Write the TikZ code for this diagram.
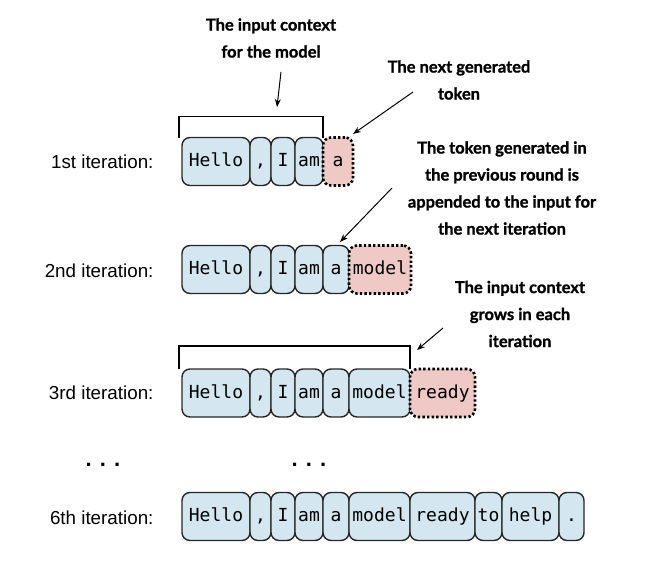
\documentclass[tikz,border=0pt]{standalone}
\usepackage{fontspec}
\usetikzlibrary{positioning,arrows.meta}
\newfontfamily\tokfont{DejaVu Sans Mono}
\newfontfamily\labfont{Liberation Sans}
\newfontfamily\notefont{Lato}[BoldFeatures={FakeBold=1.2}]
\definecolor{tokblue}{HTML}{D4E7F1}
\definecolor{tokred}{HTML}{EEC9C5}
\tikzstyle{tok}=[draw=black!85, fill=tokblue, line width=1.4pt, rounded corners=8pt, outer sep=0pt, minimum height=48pt, inner xsep=1pt, text height=13pt, text depth=3pt, font=\tokfont\fontsize{18}{21}\selectfont]
\tikzstyle{newtok}=[tok, fill=tokred, draw=black, line width=2.6pt, dash pattern=on 2.4pt off 2.2pt]
\tikzstyle{iter}=[anchor=east, font=\labfont\fontsize{18.8}{23}\selectfont]
\tikzstyle{note}=[align=center, font=\notefont\bfseries\fontsize{16.5}{27}\selectfont]
\tikzstyle{pointer}=[-{Stealth[length=8pt,width=6pt]}, line width=1pt]
\tikzstyle{bracket}=[line width=1.5pt]

\begin{document}
\begin{tikzpicture}[x=1pt, y=-1pt]
  \useasboundingbox (0,0) rectangle (662,562);
  % annotations
  \node[note] (ctx) at (271,38) {The input context\\for the model};
  \node[note] (nxt) at (459,80) {The next generated\\token};
  \node[note] (app) at (502,188) {The token generated in\\the previous round is\\appended to the input for\\the next iteration};
  \node[note] (grow) at (520,314) {The input context\\grows in each\\iteration};

  % 1st iteration
  \node[iter] (it1) at (157,162) {1st iteration:};
  \node[tok, minimum width=68pt, anchor=west] (t1-1) at (182,161.5) {Hello};
  \foreach \t/\w [count=\i from 2, remember=\i as \j (initially 1)] in {{,}/21, I/24, am/28}
    \node[tok, minimum width=\w pt, right=0pt of t1-\j] (t1-\i) {\t};
  \node[newtok, minimum width=30pt, right=0pt of t1-4] (t1-5) {a};
  \draw[bracket] (t1-1.north west) ++(-3,0) -- ++(0,-21) -| (t1-4.north east);

  % 2nd iteration
  \node[iter] (it2) at (157,271) {2nd iteration:};
  \node[tok, minimum width=68pt, anchor=west] (t2-1) at (182,269.5) {Hello};
  \foreach \t/\w [count=\i from 2, remember=\i as \j (initially 1)] in {{,}/21, I/24, am/28, a/26}
    \node[tok, minimum width=\w pt, right=0pt of t2-\j] (t2-\i) {\t};
  \node[newtok, minimum width=62pt, right=0pt of t2-5] (t2-6) {model};

  % 3rd iteration
  \node[iter] (it3) at (157,393) {3rd iteration:};
  \node[tok, minimum width=68pt, anchor=west] (t3-1) at (182,393) {Hello};
  \foreach \t/\w [count=\i from 2, remember=\i as \j (initially 1)] in {{,}/21, I/24, am/28, a/26, model/61}
    \node[tok, minimum width=\w pt, right=0pt of t3-\j] (t3-\i) {\t};
  \node[newtok, minimum width=65pt, right=0pt of t3-6] (t3-7) {ready};
  \draw[bracket] (t3-1.north west) ++(-3,0) -- ++(0,-23) -| (t3-6.north east);

  % skipped rows
  \node[font=\labfont\bfseries\fontsize{22}{22}\selectfont] (dots1) at (103,465) {. . .};
  \node[font=\labfont\bfseries\fontsize{22}{22}\selectfont] (dots2) at (309,465) {. . .};

  % 6th iteration
  \node[iter] (it6) at (157,518) {6th iteration:};
  \node[tok, minimum width=68pt, anchor=west] (t6-1) at (182,516.5) {Hello};
  \foreach \t/\w [count=\i from 2, remember=\i as \j (initially 1)] in {{,}/21, I/24, am/28, a/26, model/61, ready/65, to/27, help/57, ./25}
    \node[tok, minimum width=\w pt, right=0pt of t6-\j] (t6-\i) {\t};

  % pointers
  \coordinate (p1) at (281,72);   \coordinate (q1) at (277,107);
  \coordinate (p2) at (413,92);   \coordinate (q2) at (353,134);
  \coordinate (p3) at (392,188);  \coordinate (q3) at (340,242);
  \coordinate (p4) at (443,328);  \coordinate (q4) at (417,350);
  \draw[pointer] (p1) -- (q1);
  \draw[pointer] (p2) -- (q2);
  \draw[pointer] (p3) -- (q3);
  \draw[pointer] (p4) -- (q4);
\end{tikzpicture}
\end{document}
